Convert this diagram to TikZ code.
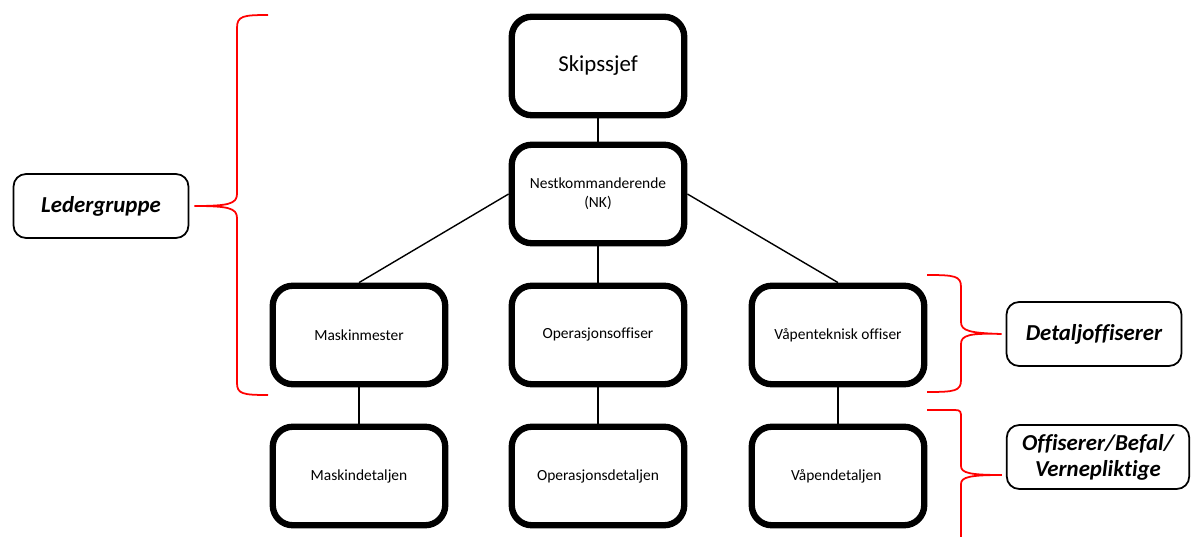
\documentclass[tikz,border=0pt]{standalone}
\usepackage{fontspec}
\setmainfont[Ligatures=NoCommon]{Carlito}

\tikzset{%
  unit/.style={draw, line width=3.6pt, rounded corners=0.4cm,
    minimum width=3.45cm, minimum height=1.97cm, align=center,
    font=\fontsize{8.8}{11}\selectfont},
  group/.style={draw, line width=1pt, rounded corners=0.25cm,
    minimum width=3.5cm, minimum height=1.28cm, align=center,
    font=\fontsize{13}{14.8}\selectfont\bfseries\itshape},
  link/.style={line width=0.8pt},
  bracket/.style={red, line width=1pt}
}

\begin{document}
\begin{tikzpicture}[x=0.02cm, y=-0.02cm]
     \useasboundingbox (0,0) rectangle (1191,537);

     \node[unit, font=\fontsize{13}{15}\selectfont] (skip) at (598,66) {Skipssjef};
     \node[unit] (nk) at (598,194) {Nestkommanderende\\(NK)};

     \foreach \n/\x/\t/\d/\b in
       { maskin/359/Maskinmester/maskindet/Maskindetaljen,
         ops/598/Operasjonsoffiser/opsdet/Operasjonsdetaljen,
         vapen/838/Våpenteknisk offiser/vapendet/Våpendetaljen
       }
       {
       \node[unit] (\n) at (\x,335) {\t};
       \node[unit] (\d) at (\x,476) {\b};
       \draw[link] (\n) -- (\d);
       }

     \draw[link] (skip) -- (nk);
     \draw[link] (nk) -- (ops);
     \draw[link] (nk.west) -- (maskin.north);
     \draw[link] (nk.east) -- (vapen.north);

     \node[group] (leder) at (101,206) {Ledergruppe};
     \node[group] (detalj) at (1094,334) {Detaljoffiserer};
     \node[group, minimum width=3.65cm] (mannskap) at (1098,457) {Offiserer/Befal/\\Vernepliktige};

     \draw[bracket] (268,15) .. controls (243,15) and (237,16) .. (237,28) -- (237,194)
       .. controls (237,204) and (228,206) .. ([xshift=0.1cm]leder.east)
       .. controls (228,206) and (237,208) .. (237,218) -- (237,383)
       .. controls (237,394) and (243,395) .. (268,395);

     \draw[bracket] (927,275) .. controls (955,275) and (961,276) .. (961,287) -- (961,322)
       .. controls (961,331) and (970,333) .. ([xshift=-0.08cm]detalj.west)
       .. controls (970,333) and (961,335) .. (961,344) -- (961,380)
       .. controls (961,391) and (955,392) .. (927,392);

     \draw[bracket] (927,410) -- (955,410) .. controls (961,410) and (961,412) .. (961,418) -- (961,466)
       .. controls (961,473) and (970,475) .. ([xshift=-0.08cm]mannskap.west |- 0,475)
       .. controls (970,475) and (961,477) .. (961,484) -- (961,545);

\end{tikzpicture}
\end{document}
